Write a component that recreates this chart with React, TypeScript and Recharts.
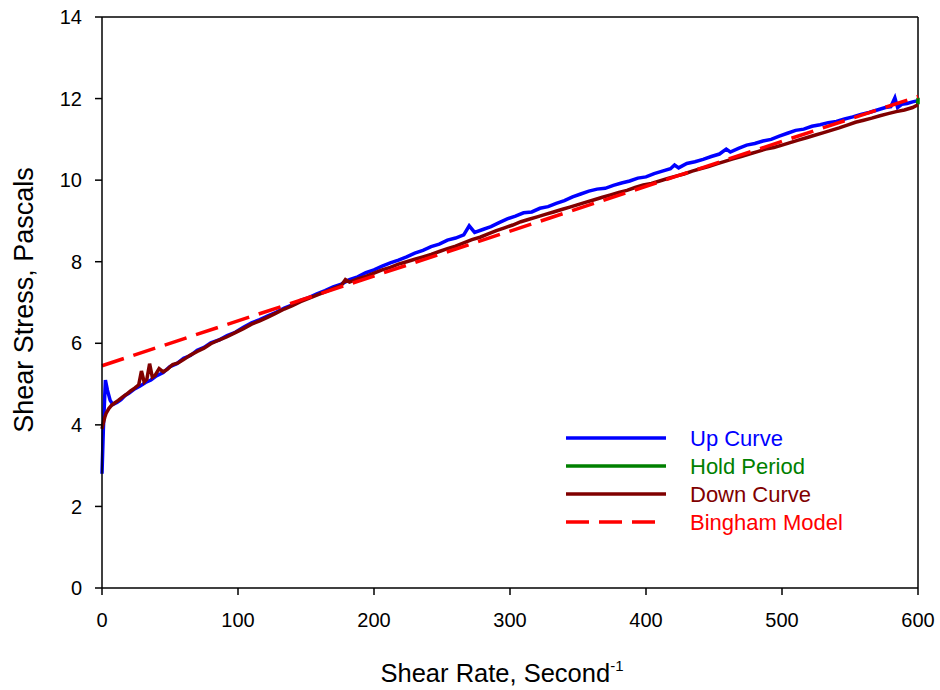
import React from "react";
import { Legend, Line, LineChart, ReferenceLine, XAxis, YAxis } from "recharts";

// Shear rate ticks / stress ticks
const RATE_TICKS = [0, 100, 200, 300, 400, 500, 600];
const STRESS_TICKS = [0, 2, 4, 6, 8, 10, 12, 14];

const SERIES_NAMES = ["Up Curve", "Hold Period", "Down Curve", "Bingham Model"];

// Up curve (blue)
const upRate = [
  0, 1, 2.5, 4, 6, 8, 11, 14, 17, 20, 24, 28, 32, 36, 40, 45, 50, 55, 60, 65, 70, 75, 80, 86,
  92, 98, 104, 110, 116, 122, 128, 134, 140, 146, 152, 158, 164, 170, 176, 182, 188, 194, 200,
  206, 212, 218, 224, 230, 236, 242, 248, 254, 260, 266, 270, 274, 280, 286, 292, 298, 304,
  310, 316, 322, 328, 334, 340, 346, 352, 358, 364, 370, 376, 382, 388, 394, 400, 406, 412,
  418, 421, 424, 430, 436, 442, 448, 454, 459, 462, 468, 474, 480, 486, 492, 498, 504, 510,
  516, 522, 528, 534, 540, 546, 552, 558, 564, 570, 576, 580, 583, 585, 588, 592, 596, 600,
];
const upStress = [
  2.8, 3.9, 5.1, 4.85, 4.6, 4.5, 4.55, 4.62, 4.72, 4.78, 4.88, 4.95, 5.04, 5.1, 5.2, 5.28, 5.43,
  5.5, 5.63, 5.7, 5.83, 5.9, 6.01, 6.08, 6.19, 6.27, 6.39, 6.5, 6.58, 6.67, 6.76, 6.86, 6.94,
  7.05, 7.12, 7.21, 7.29, 7.38, 7.45, 7.56, 7.63, 7.73, 7.8, 7.89, 7.97, 8.04, 8.12, 8.21,
  8.28, 8.37, 8.43, 8.53, 8.58, 8.66, 8.88, 8.72, 8.79, 8.86, 8.96, 9.05, 9.12, 9.2, 9.22, 9.31,
  9.35, 9.43, 9.5, 9.59, 9.66, 9.73, 9.78, 9.8, 9.87, 9.93, 9.98, 10.05, 10.08, 10.16, 10.22,
  10.28, 10.37, 10.3, 10.41, 10.45, 10.51, 10.58, 10.64, 10.76, 10.69, 10.78, 10.86, 10.9,
  10.96, 11.0, 11.08, 11.15, 11.22, 11.25, 11.32, 11.36, 11.41, 11.44, 11.5, 11.55, 11.61,
  11.66, 11.72, 11.78, 11.8, 12.02, 11.78, 11.86, 11.88, 11.92, 11.95,
];

// Hold period (green)
const holdRate = [599.5, 600, 600, 600];
const holdStress = [11.95, 11.86, 12.02, 11.9];

// Down curve (dark red)
const downRate = [
  0, 1, 2, 3, 5, 7, 9, 12, 15, 18, 21, 24, 27, 29, 31, 33, 35, 37, 39, 42, 45, 48, 52, 56, 60,
  65, 70, 75, 80, 86, 92, 98, 104, 110, 116, 122, 128, 134, 140, 146, 152, 158, 164, 170, 176,
  179, 182, 188, 194, 200, 206, 212, 218, 224, 230, 236, 242, 248, 254, 260, 266, 272, 278,
  284, 290, 296, 302, 308, 314, 320, 326, 332, 338, 344, 350, 356, 362, 368, 374, 380, 386,
  392, 398, 404, 410, 416, 422, 428, 434, 440, 446, 452, 458, 464, 470, 476, 482, 488, 494,
  500, 506, 512, 518, 524, 530, 536, 542, 548, 554, 560, 566, 572, 578, 584, 590, 596, 600,
];
const downStress = [
  3.9, 4.05, 4.18, 4.28, 4.4, 4.48, 4.53, 4.6, 4.68, 4.75, 4.83, 4.9, 4.98, 5.32, 5.05, 5.12,
  5.5, 5.17, 5.21, 5.38, 5.3, 5.36, 5.48, 5.52, 5.6, 5.71, 5.8, 5.88, 5.99, 6.08, 6.16, 6.26,
  6.36, 6.47, 6.55, 6.64, 6.74, 6.84, 6.92, 7.02, 7.1, 7.18, 7.26, 7.34, 7.42, 7.56, 7.5, 7.58,
  7.64, 7.72, 7.8, 7.86, 7.94, 8.0, 8.06, 8.12, 8.18, 8.25, 8.32, 8.38, 8.46, 8.54, 8.6, 8.68,
  8.76, 8.83, 8.9, 8.98, 9.04, 9.1, 9.16, 9.22, 9.28, 9.34, 9.4, 9.46, 9.52, 9.58, 9.64, 9.7,
  9.75, 9.82, 9.88, 9.92, 9.98, 10.04, 10.1, 10.15, 10.22, 10.28, 10.33, 10.4, 10.46, 10.52,
  10.58, 10.64, 10.7, 10.76, 10.8, 10.86, 10.92, 10.98, 11.04, 11.1, 11.16, 11.22, 11.28,
  11.35, 11.42, 11.47, 11.52, 11.58, 11.63, 11.68, 11.72, 11.78, 11.85,
];

// Bingham model fit (red dashed)
const binghamRate = [0, 600];
const binghamStress = [5.45, 12.05];

const toPoints = (xs: number[], ys: number[]) => xs.map((x, i) => ({ x, y: ys[i] }));

const upData = toPoints(upRate, upStress);
const holdData = toPoints(holdRate, holdStress);
const downData = toPoints(downRate, downStress);
const binghamData = toPoints(binghamRate, binghamStress);

const FONT = "Arial, 'Liberation Sans', sans-serif";
const LINE_W = 3.5;

function LegendBox(props: any) {
  const items = [...(props.payload ?? [])].sort(
    (a: any, b: any) => SERIES_NAMES.indexOf(a.value) - SERIES_NAMES.indexOf(b.value)
  );
  return (
    <svg width={300} height={120}>
      {items.map((item: any, i: number) => {
        const y = 13 + i * 28;
        const dashed = item.payload?.strokeDasharray;
        return (
          <g key={item.value}>
            <line
              x1={6}
              x2={dashed ? 96 : 106}
              y1={y}
              y2={y}
              stroke={item.color}
              strokeWidth={LINE_W}
              strokeDasharray={dashed}
            />
            <text
              x={130}
              y={y}
              dy="0.35em"
              fill={item.color}
              fontSize={22}
              fontFamily={FONT}
            >
              {item.value}
            </text>
          </g>
        );
      })}
    </svg>
  );
}

export default function App() {
  return (
    <div style={{ position: "absolute", left: 0, top: 0, background: "#fff" }}>
      <LineChart width={940} height={690} margin={{ top: 17, right: 22, left: 42, bottom: 42 }}>
        <XAxis
          type="number"
          dataKey="x"
          domain={[0, 600]}
          ticks={RATE_TICKS}
          height={60}
          tickSize={7}
          tickMargin={18}
          stroke="#000"
          strokeWidth={1.5}
          tick={{ fill: "#000", fontSize: 20, fontFamily: FONT }}
          label={{
            content: (p: any) => {
              const vb = p.viewBox;
              return (
                <text
                  x={vb.x + vb.width / 2 - 8}
                  y={682}
                  textAnchor="middle"
                  fontSize={25.5}
                  fontFamily={FONT}
                  fill="#000"
                >
                  Shear Rate, Second
                  <tspan dy={-11} fontSize={15}>
                    -1
                  </tspan>
                </text>
              );
            },
          }}
        />
        <YAxis
          type="number"
          dataKey="y"
          domain={[0, 14]}
          ticks={STRESS_TICKS}
          width={60}
          tickSize={7}
          tickMargin={13}
          stroke="#000"
          strokeWidth={1.5}
          tick={{ fill: "#000", fontSize: 20, fontFamily: FONT }}
          label={{
            content: () => (
              <text
                x={0}
                y={0}
                transform="translate(33, 300) rotate(-90)"
                textAnchor="middle"
                fontSize={27}
                fontFamily={FONT}
                fill="#000"
              >
                Shear Stress, Pascals
              </text>
            ),
          }}
        />
        <ReferenceLine y={14} stroke="#000" strokeWidth={1.5} />
        <ReferenceLine x={600} stroke="#000" strokeWidth={1.5} />
        <Line
          data={upData}
          dataKey="y"
          name="Up Curve"
          type="linear"
          stroke="#0000ff"
          strokeWidth={LINE_W}
          dot={false}
          isAnimationActive={false}
        />
        <Line
          data={holdData}
          dataKey="y"
          name="Hold Period"
          type="linear"
          stroke="#008000"
          strokeWidth={LINE_W}
          dot={false}
          isAnimationActive={false}
        />
        <Line
          data={downData}
          dataKey="y"
          name="Down Curve"
          type="linear"
          stroke="#800000"
          strokeWidth={LINE_W}
          dot={false}
          isAnimationActive={false}
        />
        <Line
          data={binghamData}
          dataKey="y"
          name="Bingham Model"
          type="linear"
          stroke="#ff0000"
          strokeWidth={LINE_W}
          strokeDasharray="23 10"
          dot={false}
          isAnimationActive={false}
        />
        <Legend
          layout="vertical"
          align="center"
          verticalAlign="middle"
          content={<LegendBox />}
          wrapperStyle={{ left: 560, top: 425, width: 300, height: 120 }}
        />
      </LineChart>
    </div>
  );
}
